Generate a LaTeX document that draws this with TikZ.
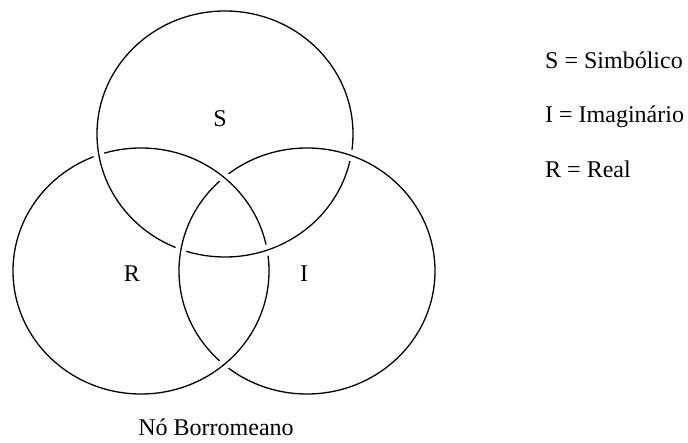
\documentclass[tikz,border=0pt]{standalone}
\usepackage{fontspec}
\setmainfont{Liberation Serif}
\usetikzlibrary{intersections}

\newcommand{\ringrx}{128}
\newcommand{\ringry}{123}

\begin{document}
\begin{tikzpicture}[x=1pt, y=1pt,
    ring/.style={draw=black, line width=1.3pt},
    gap/.style={draw=white, line width=11pt},
    lbl/.style={font=\fontsize{24}{28}\selectfont, inner sep=0pt}]
  \useasboundingbox (0,0) rectangle (688,443);
  % centres of the three rings
  \coordinate (cS) at (225,309);
  \coordinate (cR) at (141,172);
  \coordinate (cI) at (307,172);
  % the rings
  \draw[ring, name path=S] (cS) ellipse [x radius=\ringrx, y radius=\ringry];
  \draw[ring, name path=R] (cR) ellipse [x radius=\ringrx, y radius=\ringry];
  \draw[ring, name path=I] (cI) ellipse [x radius=\ringrx, y radius=\ringry];
  % crossings: S over R, R over I, I over S
  \path[name intersections={of=S and R, name=sr}];
  \path[name intersections={of=R and I, name=ri}];
  \path[name intersections={of=I and S, name=is}];
  \foreach \xing/\ctr in {sr-1/cS, sr-2/cS, ri-1/cR, ri-2/cR, is-1/cI, is-2/cI} {
    \begin{scope}
      \clip (\xing) circle (12);
      \draw[gap] (\ctr) ellipse [x radius=\ringrx, y radius=\ringry];
      \draw[ring] (\ctr) ellipse [x radius=\ringrx, y radius=\ringry];
    \end{scope}
  }
  % letters in the rings
  \node[lbl, anchor=base] (labS) at (220,316) {S};
  \node[lbl, anchor=base] (labR) at (132,161) {R};
  \node[lbl, anchor=base] (labI) at (304,161) {I};
  \node[lbl, anchor=base] (title) at (216,7) {Nó Borromeano};
  % key
  \node[lbl, anchor=base west] (keyS) at (545,374) {S = Simbólico};
  \node[lbl, anchor=base west] (keyI) at (545,320) {I = Imaginário};
  \node[lbl, anchor=base west] (keyR) at (545,265) {R = Real};
\end{tikzpicture}
\end{document}
